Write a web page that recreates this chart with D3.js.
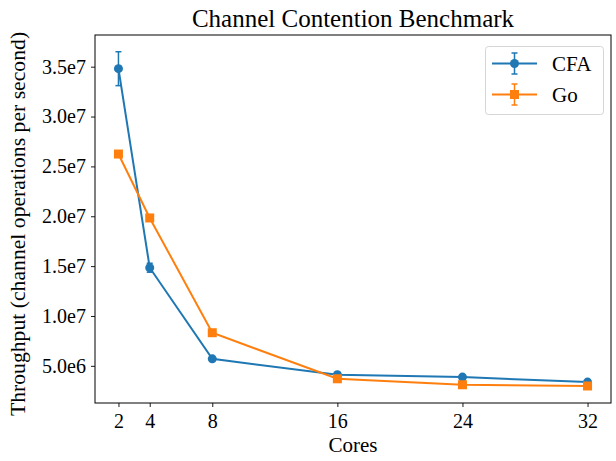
<!DOCTYPE html>
<html>
<head>
<meta charset="utf-8">
<script src="https://cdn.jsdelivr.net/npm/d3@7"></script>
<style>
  body { margin: 0; background: #fff; }
  svg text { font-family: "Liberation Serif", "Times New Roman", serif; fill: #000; }
</style>
</head>
<body>
<div id="chart"></div>
<script>
// data
var cores = [2, 4, 8, 16, 24, 32];
var cfaValues = [3.48e7, 1.484e7, 5.70e6, 4.10e6, 3.87e6, 3.37e6];
var cfaErrors = [1.7e6, 4.5e5, 1.0e5, 8e4, 8e4, 6e4];
var goValues = [2.624e7, 1.983e7, 8.32e6, 3.70e6, 3.10e6, 2.98e6];
var goErrors = [5e4, 5e4, 4e4, 3e4, 3e4, 3e4];
var yTicks = [5e6, 1e7, 1.5e7, 2e7, 2.5e7, 3e7, 3.5e7];
var yTickLabels = ["5.0e6", "1.0e7", "1.5e7", "2.0e7", "2.5e7", "3.0e7", "3.5e7"];

var series = [
	{name: "CFA", values: cfaValues, errors: cfaErrors, color: "#1f77b4", marker: "circle"},
	{name: "Go", values: goValues, errors: goErrors, color: "#ff7f0e", marker: "square"}
];

var W = 616, H = 461;
var plotLeft = 95, plotRight = 611, plotTop = 35, plotBottom = 403;

var svg = d3.select("#chart").append("svg")
	.attr("width", W)
	.attr("height", H);

// matplotlib-like 5% margins
var lo = d3.min(series, function(s) { return d3.min(s.values, function(v, i) { return v - s.errors[i]; }); });
var hi = d3.max(series, function(s) { return d3.max(s.values, function(v, i) { return v + s.errors[i]; }); });
var pad = (hi - lo) * 0.05;

var x = d3.scaleLinear().domain([0.5, 33.5]).range([plotLeft, plotRight]);
var y = d3.scaleLinear().domain([lo - pad, hi + pad]).range([plotBottom, plotTop]);

// axes
var xAxis = d3.axisBottom(x).tickValues(cores).tickSize(4).tickPadding(6);
var yAxis = d3.axisLeft(y).tickValues(yTicks).tickSize(4).tickPadding(5)
	.tickFormat(function(d, i) { return yTickLabels[i]; });

var gx = svg.append("g").attr("transform", "translate(0," + plotBottom + ")").call(xAxis);
var gy = svg.append("g").attr("transform", "translate(" + plotLeft + ",0)").call(yAxis);
[gx, gy].forEach(function(g) {
	g.select(".domain").remove();
	g.selectAll(".tick line").attr("stroke", "#000").attr("stroke-width", 0.9);
	g.selectAll(".tick text").attr("font-size", 20).attr("fill", "#000")
		.style("font-family", "'Liberation Serif', serif");
});
gx.selectAll(".tick text").attr("dy", "0.75em");

// frame
svg.append("rect")
	.attr("x", plotLeft)
	.attr("y", plotTop)
	.attr("width", plotRight - plotLeft)
	.attr("height", plotBottom - plotTop)
	.attr("fill", "none")
	.attr("stroke", "#000")
	.attr("stroke-width", 1);

var line = d3.line()
	.x(function(d) { return x(d[0]); })
	.y(function(d) { return y(d[1]); });

function drawMarker(g, type, cx, cy, color) {
	if (type == "circle") {
		g.append("circle").attr("cx", cx).attr("cy", cy).attr("r", 4.5).attr("fill", color);
	} else {
		g.append("rect").attr("x", cx - 4.5).attr("y", cy - 4.5)
			.attr("width", 9).attr("height", 9).attr("fill", color);
	}
}

series.forEach(function(s) {
	var g = svg.append("g");
	var pts = cores.map(function(c, i) { return [c, s.values[i]]; });

	// error bars
	cores.forEach(function(c, i) {
		var cx = x(c), y1 = y(s.values[i] + s.errors[i]), y2 = y(s.values[i] - s.errors[i]);
		g.append("line").attr("x1", cx).attr("x2", cx).attr("y1", y1).attr("y2", y2)
			.attr("stroke", s.color).attr("stroke-width", 1.5);
		[y1, y2].forEach(function(yy) {
			g.append("line").attr("x1", cx - 3).attr("x2", cx + 3).attr("y1", yy).attr("y2", yy)
				.attr("stroke", s.color).attr("stroke-width", 1.5);
		});
	});

	g.append("path")
		.attr("d", line(pts))
		.attr("fill", "none")
		.attr("stroke", s.color)
		.attr("stroke-width", 2);

	pts.forEach(function(p) { drawMarker(g, s.marker, x(p[0]), y(p[1]), s.color); });
});

// legend
var legend = svg.append("g");
legend.append("rect")
	.attr("x", 485.5).attr("y", 46.5)
	.attr("width", 118).attr("height", 68)
	.attr("rx", 3)
	.attr("fill", "#fff").attr("fill-opacity", 0.8)
	.attr("stroke", "#d6d6d6").attr("stroke-width", 1);

series.forEach(function(s, i) {
	var ly = 63.5 + i * 31;
	legend.append("line").attr("x1", 492).attr("x2", 537).attr("y1", ly).attr("y2", ly)
		.attr("stroke", s.color).attr("stroke-width", 2);
	legend.append("line").attr("x1", 514.5).attr("x2", 514.5).attr("y1", ly - 10.5).attr("y2", ly + 10.5)
		.attr("stroke", s.color).attr("stroke-width", 1.5);
	[ly - 10.5, ly + 10.5].forEach(function(yy) {
		legend.append("line").attr("x1", 511.5).attr("x2", 517.5).attr("y1", yy).attr("y2", yy)
			.attr("stroke", s.color).attr("stroke-width", 1.5);
	});
	drawMarker(legend, s.marker, 514.5, ly, s.color);
	legend.append("text")
		.attr("x", 552)
		.attr("y", ly + 7)
		.attr("font-size", 21)
		.text(s.name);
});

// title and labels
svg.append("text")
	.attr("x", (plotLeft + plotRight) / 2)
	.attr("y", 27)
	.attr("text-anchor", "middle")
	.attr("font-size", 25)
	.text("Channel Contention Benchmark");

svg.append("text")
	.attr("x", (plotLeft + plotRight) / 2)
	.attr("y", 452)
	.attr("text-anchor", "middle")
	.attr("font-size", 21)
	.text("Cores");

svg.append("text")
	.attr("transform", "translate(25,224) rotate(-90)")
	.attr("text-anchor", "middle")
	.attr("font-size", 21.7)
	.text("Throughput (channel operations per second)");
</script>
</body>
</html>
